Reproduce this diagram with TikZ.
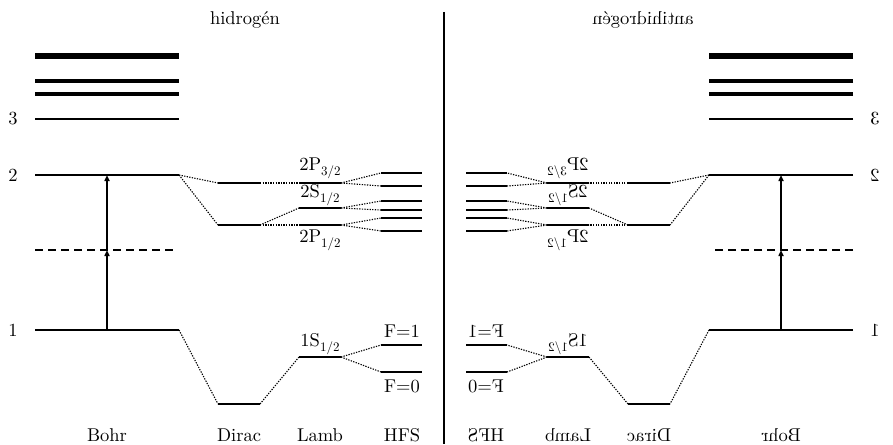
\documentclass[tikz,border=0pt]{standalone}
\usepackage{fontspec}
\setmainfont{lmroman10-regular.otf}
\newfontfamily\lblfont{lmroman10-regular.otf}
\usetikzlibrary{arrows.meta}
\tikzset{
  lvlline/.style={line width=2.2pt},
  dotline/.style={line width=1.1pt, dash pattern=on 1.3pt off 1.3pt},
  dashline/.style={line width=1.5pt, dash pattern=on 8pt off 5pt},
  lbl/.style={font=\lblfont\fontsize{18.5}{20}\selectfont, inner sep=0pt},
  arr/.style={line width=1.5pt, -{Triangle[length=6pt,width=5pt]}},
}
\newcommand\mysub[1]{\raisebox{-0.28em}{\fontsize{13}{14}\selectfont #1}}
\newcommand\mylevel[5]{%
  \coordinate (#1-l) at (#2,#4); \coordinate (#1-r) at (#3,#4);
  \draw[#5] (#1-l) -- (#1-r);}
\newcommand\halfdiagram[2]{%
  % Bohr levels
  \mylevel{#1b6}{35}{179}{56}{line width=6pt}
  \mylevel{#1b5}{35}{179}{81}{line width=3.5pt}
  \mylevel{#1b4}{35}{179}{94}{line width=3.5pt}
  \mylevel{#1b3}{35}{179}{119}{line width=2pt}
  \mylevel{#1b2}{35}{179}{175}{lvlline}
  \mylevel{#1bv}{35}{176}{250}{dashline}
  \mylevel{#1b1}{35}{179}{330}{lvlline}
  \node[lbl] (#1n3) at (13,119) {3};
  \node[lbl] (#1n2) at (13,175) {2};
  \node[lbl] (#1n1) at (13,330) {1};
  % arrows
  \coordinate (#1a1) at (107,330);
  \coordinate (#1a2) at (107,250);
  \coordinate (#1a3) at (107,175);
  \draw[arr] (#1a1) -- (#1a2);
  \draw[arr] (#1a2) -- (#1a3);
  % Dirac
  \mylevel{#1du}{218}{260}{183}{lvlline}
  \mylevel{#1dl}{218}{260}{225}{lvlline}
  \mylevel{#1d1}{218}{260}{404}{lvlline}
  \draw[dotline] (#1b2-r) -- (#1du-l);
  \draw[dotline] (#1b2-r) -- (#1dl-l);
  \draw[dotline] (#1b1-r) -- (#1d1-l);
  % Lamb
  \mylevel{#1lp3}{299}{341}{183}{lvlline}
  \mylevel{#1ls}{299}{341}{208}{lvlline}
  \mylevel{#1lp1}{299}{341}{225}{lvlline}
  \mylevel{#1l1}{299}{341}{357}{lvlline}
  \draw[dotline] (#1du-r) -- (#1lp3-l);
  \draw[dotline] (#1dl-r) -- (#1ls-l);
  \draw[dotline] (#1dl-r) -- (#1lp1-l);
  \draw[dotline] (#1d1-r) -- (#1l1-l);
  % HFS
  \mylevel{#1h1}{381}{422}{173}{lvlline}
  \mylevel{#1h2}{381}{422}{186}{lvlline}
  \mylevel{#1h3}{381}{422}{201}{lvlline}
  \mylevel{#1h4}{381}{422}{210}{lvlline}
  \mylevel{#1h5}{381}{422}{218}{lvlline}
  \mylevel{#1h6}{381}{422}{231}{lvlline}
  \mylevel{#1hf1}{381}{422}{345}{lvlline}
  \mylevel{#1hf0}{381}{422}{372}{lvlline}
  \draw[dotline] (#1lp3-r) -- (#1h1-l);
  \draw[dotline] (#1lp3-r) -- (#1h2-l);
  \draw[dotline] (#1ls-r) -- (#1h3-l);
  \draw[dotline] (#1ls-r) -- (#1h4-l);
  \draw[dotline] (#1lp1-r) -- (#1h5-l);
  \draw[dotline] (#1lp1-r) -- (#1h6-l);
  \draw[dotline] (#1l1-r) -- (#1hf1-l);
  \draw[dotline] (#1l1-r) -- (#1hf0-l);
  % labels
  \node[lbl] (#1tp3) at (320,168) {2P\mysub{3/2}};
  \node[lbl] (#1ts) at (320,195) {2S\mysub{1/2}};
  \node[lbl] (#1tp1) at (320,240) {2P\mysub{1/2}};
  \node[lbl] (#1t1s) at (320,344) {1S\mysub{1/2}};
  \node[lbl] (#1tf1) at (402,331) {F=1};
  \node[lbl] (#1tf0) at (402,386) {F=0};
  \node[lbl] (#1cbohr) at (107,435) {Bohr};
  \node[lbl] (#1cdirac) at (239,435) {Dirac};
  \node[lbl] (#1clamb) at (320,435) {Lamb};
  \node[lbl] (#1chfs) at (402,435) {HFS};
  \node[lbl] (#1title) at (245,20) {#2};
}
\begin{document}
\begin{tikzpicture}[x={(1pt,0pt)}, y={(0pt,-1pt)}]
  \useasboundingbox (0,0) rectangle (893,444);
  \halfdiagram{L}{hidrogén}
  \begin{scope}[xshift=888pt, xscale=-1, transform shape]
    \halfdiagram{R}{antihidrogén}
  \end{scope}
  \coordinate (sepTop) at (444,12);
  \coordinate (sepBot) at (444,444);
  \draw[line width=1.5pt] (sepTop) -- (sepBot);
\end{tikzpicture}
\end{document}
